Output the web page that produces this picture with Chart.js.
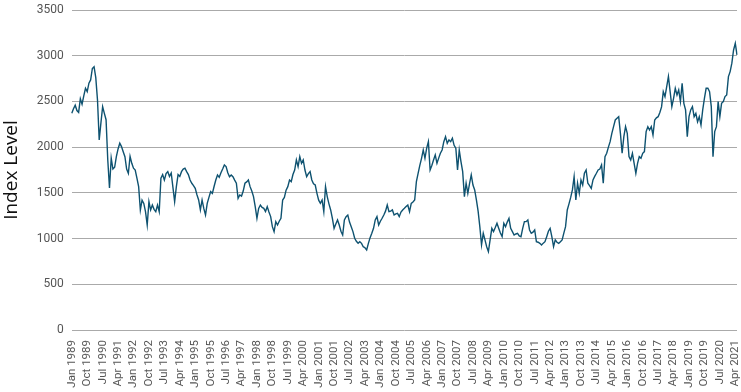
<!DOCTYPE html>
<html>
<head>
<meta charset="utf-8">
<script src="https://cdn.jsdelivr.net/npm/chart.js@4"></script>
<style>
    body { margin: 0; background: #fff; }
    #box { width: 741px; height: 392px; }
</style>
</head>
<body>
<div id="box"><canvas id="myChart"></canvas></div>
<script>
// months run Jan 1989 .. May 2021, one value per month
var mesesNomes = ['Jan', 'Feb', 'Mar', 'Apr', 'May', 'Jun', 'Jul', 'Aug', 'Sep', 'Oct', 'Nov', 'Dec'];
var anoInicial = 1989;
var passoRotulo = 9;

var nivelIndice = [
    2370, 2420, 2460, 2400, 2380, 2530, 2470, 2560, 2644, 2607,
    2699, 2735, 2860, 2880, 2760, 2516, 2079, 2265, 2443, 2370,
    2300, 1860, 1553, 1880, 1760, 1780, 1896, 1980, 2043, 2006,
    1950, 1896, 1760, 1714, 1900, 1823, 1770, 1750, 1660, 1568,
    1313, 1420, 1385, 1294, 1149, 1404, 1313, 1367, 1320, 1294,
    1367, 1294, 1660, 1700, 1640, 1710, 1732, 1680, 1717, 1560,
    1404, 1568, 1700, 1680, 1732, 1760, 1769, 1732, 1700, 1641,
    1605, 1580, 1550, 1480, 1422, 1313, 1422, 1330, 1258, 1385,
    1450, 1513, 1495, 1570, 1640, 1696, 1670, 1720, 1760, 1805,
    1787, 1720, 1677, 1696, 1677, 1640, 1605, 1440, 1477, 1465,
    1520, 1605, 1620, 1641, 1568, 1520, 1459, 1349, 1222, 1330,
    1367, 1340, 1331, 1295, 1349, 1290, 1240, 1130, 1076, 1185,
    1149, 1190, 1222, 1422, 1450, 1530, 1568, 1641, 1623, 1700,
    1750, 1860, 1787, 1896, 1823, 1860, 1750, 1677, 1710, 1732,
    1641, 1600, 1586, 1495, 1420, 1386, 1422, 1294, 1568, 1459,
    1380, 1313, 1222, 1112, 1160, 1204, 1149, 1080, 1039, 1204,
    1240, 1258, 1180, 1130, 1076, 1003, 970, 948, 966, 948,
    911, 900, 875, 948, 1010, 1058, 1112, 1204, 1240, 1149,
    1190, 1222, 1258, 1300, 1367, 1294, 1300, 1313, 1258, 1270,
    1276, 1240, 1290, 1313, 1331, 1350, 1367, 1294, 1385, 1400,
    1422, 1623, 1714, 1800, 1878, 1969, 1878, 1990, 2060, 1750,
    1800, 1860, 1915, 1823, 1880, 1933, 1969, 2060, 2115, 2042,
    2079, 2060, 2097, 2020, 1988, 1750, 1969, 1841, 1732, 1459,
    1605, 1495, 1600, 1696, 1586, 1532, 1422, 1300, 1130, 930,
    1058, 985, 911, 857, 985, 1112, 1076, 1120, 1167, 1112,
    1060, 1021, 1167, 1130, 1180, 1222, 1112, 1076, 1039, 1050,
    1058, 1030, 1021, 1112, 1185, 1185, 1203, 1094, 1058, 1070,
    1094, 966, 960, 948, 930, 950, 966, 1021, 1080, 1112,
    1021, 911, 985, 960, 948, 966, 985, 1060, 1130, 1313,
    1380, 1450, 1532, 1677, 1422, 1605, 1495, 1641, 1586, 1714,
    1750, 1605, 1580, 1550, 1641, 1680, 1714, 1750, 1760, 1805,
    1605, 1896, 1933, 2000, 2060, 2151, 2225, 2297, 2315, 2333,
    2151, 1933, 2115, 2225, 2151, 1896, 1860, 1933, 1823, 1714,
    1823, 1896, 1878, 1933, 1951, 2170, 2224, 2188, 2224, 2133,
    2297, 2320, 2333, 2380, 2440, 2607, 2553, 2662, 2772, 2607,
    2443, 2534, 2644, 2571, 2626, 2498, 2699, 2479, 2407, 2115,
    2333, 2407, 2443, 2333, 2370, 2278, 2333, 2242, 2407, 2534,
    2644, 2644, 2607, 2443, 1896, 2170, 2224, 2498, 2333, 2479,
    2498, 2553, 2571, 2772, 2826, 2918, 3063, 3136, 3009
];

var yMin = 0;
var yMax = 3500;
var yPasso = 500;

var rotulos = [];
for (var i = 0; i < nivelIndice.length; i++) {
    var ano = anoInicial + Math.floor(i / 12);
    rotulos.push(mesesNomes[i % 12] + ' ' + ano);
}

var ctx = document.getElementById('myChart').getContext('2d');
var chart = new Chart(ctx, {
    type: 'line',
    data: {
        labels: rotulos,
        datasets: [{
            label: 'Index Level',
            data: nivelIndice,
            borderColor: '#0e5270',
            backgroundColor: '#0e5270',
            borderWidth: 1.4,
            pointRadius: 0,
            tension: 0,
            fill: false
        }]
    },
    options: {
        responsive: true,
        maintainAspectRatio: false,
        animation: false,
        layout: {
            padding: { left: 0, right: 4, top: 0, bottom: 0 }
        },
        plugins: {
            legend: { display: false },
            tooltip: { enabled: false }
        },
        scales: {
            x: {
                offset: false,
                grid: { display: false, drawTicks: false },
                border: { display: false },
                afterFit: function (scale) {
                    // last label sits on the right edge, no extra room needed
                    scale.paddingRight = 0;
                    scale.height = 62;
                },
                ticks: {
                    autoSkip: false,
                    maxRotation: 90,
                    minRotation: 90,
                    padding: 10,
                    color: '#555',
                    font: { family: 'Roboto', size: 11.5 },
                    callback: function (val, idx) {
                        return idx % passoRotulo === 0 ? this.getLabelForValue(val) : null;
                    }
                }
            },
            y: {
                min: yMin,
                max: yMax,
                grid: { color: '#aaaaaa', lineWidth: 1, drawTicks: false },
                border: { display: false },
                afterFit: function (scale) {
                    scale.paddingTop = 10;
                },
                ticks: {
                    stepSize: yPasso,
                    padding: 8,
                    color: '#555',
                    font: { family: 'Roboto', size: 12 },
                    callback: function (v) { return String(v); }
                },
                title: {
                    display: true,
                    text: 'Index Level',
                    color: '#111',
                    font: { family: 'Open Sans', size: 19 },
                    padding: { top: 0, bottom: 6 }
                }
            }
        }
    }
});
</script>
</body>
</html>
